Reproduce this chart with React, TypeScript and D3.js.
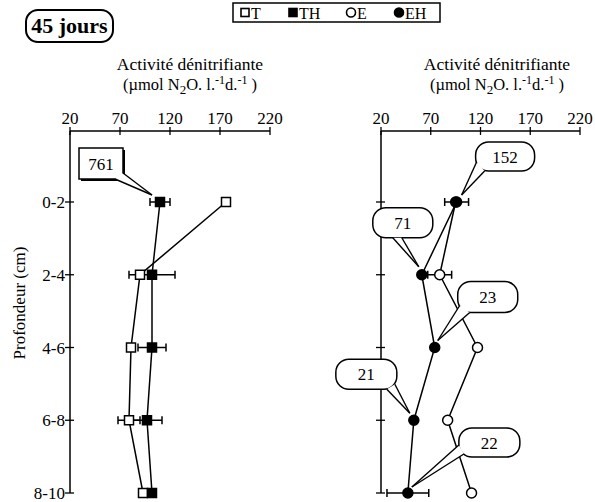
import React from 'react';
import * as d3 from 'd3';

// ---------- data ----------
const depths = ['0-2', '2-4', '4-6', '6-8', '8-10'];
const xTicks = [20, 70, 120, 170, 220];
const tValues = [176, 90, 81, 79, 93];
const tErrors = [0, 0, 0, 11, 0];
const thValues = [110, 102, 102, 97, 102];
const thErrors = [10, 23, 14, 15, 0];
const eValues = [95, 79, 117, 87, 111];
const eErrors = [0, 12, 0, 0, 0];
const ehValues = [96, 61, 74, 53, 47];
const ehErrors = [12, 0, 0, 0, 21];
const legendLabels = ['T', 'TH', 'E', 'EH'];
const calloutLabels = ['761', '152', '71', '23', '21', '22'];
const calloutSeries = ['TH', 'EH', 'EH', 'EH', 'EH', 'EH'];
const calloutDepth = [0, 0, 1, 2, 3, 4];
const titleLine1 = 'Activité dénitrifiante';
const periodLabel = '45 jours';
const yAxisLabel = 'Profondeur (cm)';

// ---------- layout ----------
const W = 595, H = 502;
const FONT = "'Liberation Serif', 'Times New Roman', serif";
const axisTop = 131;
const yRange: [number, number] = [202, 493];
const leftRange: [number, number] = [70, 270];
const rightRange: [number, number] = [381, 580];
// callout geometry relative to anchor point: box [dx, dy, w, h], base points, tip
const calloutGeom = [
  { box: [-81, -54, 44, 31], b1: [-45, -23], b2: [-37, -29], tip: [-8, -7], square: true },
  { box: [19, -60, 59, 29], b1: [20, -40], b2: [28, -31], tip: [5, -7], square: false },
  { box: [-49, -67, 60, 30], b1: [-29, -37], b2: [-20, -37], tip: [-3, -8], square: false },
  { box: [23, -66, 60, 31], b1: [25, -42], b2: [35, -35], tip: [3, -7], square: false },
  { box: [-78, -61, 61, 30], b1: [-27, -31], b2: [-19, -36], tip: [-4, -7], square: false },
  { box: [51, -65, 61, 29], b1: [51, -48], b2: [56, -39], tip: [4, -6], square: false },
];

const yScale = d3.scalePoint<string>().domain(depths).range(yRange);
const xLeft = d3.scaleLinear().domain([20, 220]).range(leftRange);
const xRight = d3.scaleLinear().domain([20, 220]).range(rightRange);

type Series = { key: string; values: number[]; errors: number[]; shape: 'square' | 'circle'; filled: boolean };
const leftSeries: Series[] = [
  { key: 'T', values: tValues, errors: tErrors, shape: 'square', filled: false },
  { key: 'TH', values: thValues, errors: thErrors, shape: 'square', filled: true },
];
const rightSeries: Series[] = [
  { key: 'E', values: eValues, errors: eErrors, shape: 'circle', filled: false },
  { key: 'EH', values: ehValues, errors: ehErrors, shape: 'circle', filled: true },
];

function Marker({ x, y, shape, filled }: { x: number; y: number; shape: string; filled: boolean }) {
  if (shape === 'square') {
    return <rect x={x - 4.5} y={y - 4.5} width={9} height={9} fill={filled ? '#000' : '#fff'} stroke="#000" strokeWidth={1.5} />;
  }
  return <circle cx={x} cy={y} r={5} fill={filled ? '#000' : '#fff'} stroke="#000" strokeWidth={1.5} />;
}

function UnitText({ x, y }: { x: number; y: number }) {
  return (
    <text x={x} y={y} textAnchor="middle" fontFamily={FONT} fontSize={16.5}>
      <tspan>(µmol N</tspan>
      <tspan dy={4} fontSize={13}>2</tspan>
      <tspan dy={-4}>O. l.</tspan>
      <tspan dy={-6} fontSize={12}>-1</tspan>
      <tspan dy={6}>d.</tspan>
      <tspan dy={-6} fontSize={12}>-1</tspan>
      <tspan dy={6}> )</tspan>
    </text>
  );
}

function Panel({ x, series, showYLabels, titleCx }: { x: d3.ScaleLinear<number, number>; series: Series[]; showYLabels: boolean; titleCx: number }) {
  const [x0, x1] = x.range();
  const line = d3.line<number>().x((v) => x(v)).y((_, i) => yScale(depths[i]) as number);
  return (
    <g>
      <text x={titleCx} y={70} textAnchor="middle" fontFamily={FONT} fontSize={17.5}>{titleLine1}</text>
      <UnitText x={titleCx} y={90} />
      {/* x axis at top */}
      <line x1={x0} x2={x1} y1={axisTop} y2={axisTop} stroke="#000" strokeWidth={1.5} />
      {xTicks.map((t) => (
        <g key={t}>
          <line x1={x(t)} x2={x(t)} y1={axisTop - 4} y2={axisTop + 4} stroke="#000" strokeWidth={1.3} />
          <text x={x(t)} y={124} textAnchor="middle" fontFamily={FONT} fontSize={17}>{t}</text>
        </g>
      ))}
      {/* y axis */}
      <line x1={x0} x2={x0} y1={axisTop} y2={yRange[1]} stroke="#000" strokeWidth={1.5} />
      {depths.map((d) => (
        <g key={d}>
          <line x1={x0 - 5} x2={x0 + 4} y1={yScale(d)} y2={yScale(d)} stroke="#000" strokeWidth={1.3} />
          {showYLabels && (
            <text x={x0 - 5} y={(yScale(d) as number) + 6} textAnchor="end" fontFamily={FONT} fontSize={17}>{d}</text>
          )}
        </g>
      ))}
      {series.map((s) => (
        <path key={s.key + 'l'} d={line(s.values) || ''} fill="none" stroke="#000" strokeWidth={1.5} />
      ))}
      {series.map((s) =>
        s.values.map((v, i) => {
          const e = s.errors[i];
          if (!e) return null;
          const yy = yScale(depths[i]) as number;
          return (
            <g key={s.key + 'e' + i} stroke="#000" strokeWidth={1.5}>
              <line x1={x(v - e)} x2={x(v + e)} y1={yy} y2={yy} />
              <line x1={x(v - e)} x2={x(v - e)} y1={yy - 4} y2={yy + 4} />
              <line x1={x(v + e)} x2={x(v + e)} y1={yy - 4} y2={yy + 4} />
            </g>
          );
        })
      )}
      {series.map((s) =>
        s.values.map((v, i) => (
          <Marker key={s.key + 'm' + i} x={x(v)} y={yScale(depths[i]) as number} shape={s.shape} filled={s.filled} />
        ))
      )}
    </g>
  );
}

function Callout({ ax, ay, label, g }: { ax: number; ay: number; label: string; g: any }) {
  const [dx, dy, w, h] = g.box;
  const bx = ax + dx, by = ay + dy;
  const p1 = [ax + g.b1[0], ay + g.b1[1]];
  const p2 = [ax + g.b2[0], ay + g.b2[1]];
  const tp = [ax + g.tip[0], ay + g.tip[1]];
  const r = g.square ? 0 : 13;
  return (
    <g>
      {g.square && <rect x={bx + 2} y={by + 2} width={w} height={h} fill="#000" />}
      <rect x={bx} y={by} width={w} height={h} rx={r} ry={r} fill="#fff" stroke="#000" strokeWidth={1.5} />
      <polygon points={`${p1[0]},${p1[1]} ${p2[0]},${p2[1]} ${tp[0]},${tp[1]}`} fill="#fff" stroke="none" />
      <line x1={p1[0]} y1={p1[1]} x2={tp[0]} y2={tp[1]} stroke="#000" strokeWidth={1.4} />
      <line x1={p2[0]} y1={p2[1]} x2={tp[0]} y2={tp[1]} stroke="#000" strokeWidth={1.4} />
      <text x={bx + w / 2} y={by + h / 2 + 6} textAnchor="middle" fontFamily={FONT} fontSize={17}>{label}</text>
    </g>
  );
}

export default function App() {
  const allSeries: Record<string, { s: Series; x: d3.ScaleLinear<number, number> }> = {};
  leftSeries.forEach((s) => (allSeries[s.key] = { s, x: xLeft }));
  rightSeries.forEach((s) => (allSeries[s.key] = { s, x: xRight }));
  const legendShapes = [
    { shape: 'square', filled: false },
    { shape: 'square', filled: true },
    { shape: 'circle', filled: false },
    { shape: 'circle', filled: true },
  ];
  const legendX = [245, 293, 351, 399];
  return (
    <svg width={W} height={H} style={{ position: 'absolute', left: 0, top: 0, background: '#fff' }}>
      <rect x={0} y={0} width={W} height={H} fill="#fff" />
      {/* legend */}
      <rect x={233} y={3} width={207} height={19} fill="#fff" stroke="#000" strokeWidth={1.5} />
      {legendLabels.map((l, i) => (
        <g key={l}>
          {legendShapes[i].shape === 'square' ? (
            <rect x={legendX[i] - 4} y={8.5} width={8} height={8} fill={legendShapes[i].filled ? '#000' : '#fff'} stroke="#000" strokeWidth={1.6} />
          ) : (
            <circle cx={legendX[i]} cy={12.5} r={4.5} fill={legendShapes[i].filled ? '#000' : '#fff'} stroke="#000" strokeWidth={1.6} />
          )}
          <text x={legendX[i] + 6} y={18.5} fontFamily={FONT} fontSize={16}>{l}</text>
        </g>
      ))}
      {/* period label */}
      <rect x={26} y={10} width={87} height={32} rx={12} ry={12} fill="#fff" stroke="#000" strokeWidth={2} />
      <text x={69.5} y={33} textAnchor="middle" fontFamily={FONT} fontSize={22} fontWeight="bold">{periodLabel}</text>
      {/* y label */}
      <text transform={`translate(25, 303) rotate(-90)`} textAnchor="middle" fontFamily={FONT} fontSize={17}>{yAxisLabel}</text>
      <Panel x={xLeft} series={leftSeries} showYLabels={true} titleCx={190} />
      <Panel x={xRight} series={rightSeries} showYLabels={false} titleCx={497} />
      {calloutLabels.map((lab, i) => {
        const { s, x } = allSeries[calloutSeries[i]];
        const di = calloutDepth[i];
        return (
          <Callout key={lab} ax={x(s.values[di])} ay={yScale(depths[di]) as number} label={lab} g={calloutGeom[i]} />
        );
      })}
    </svg>
  );
}
